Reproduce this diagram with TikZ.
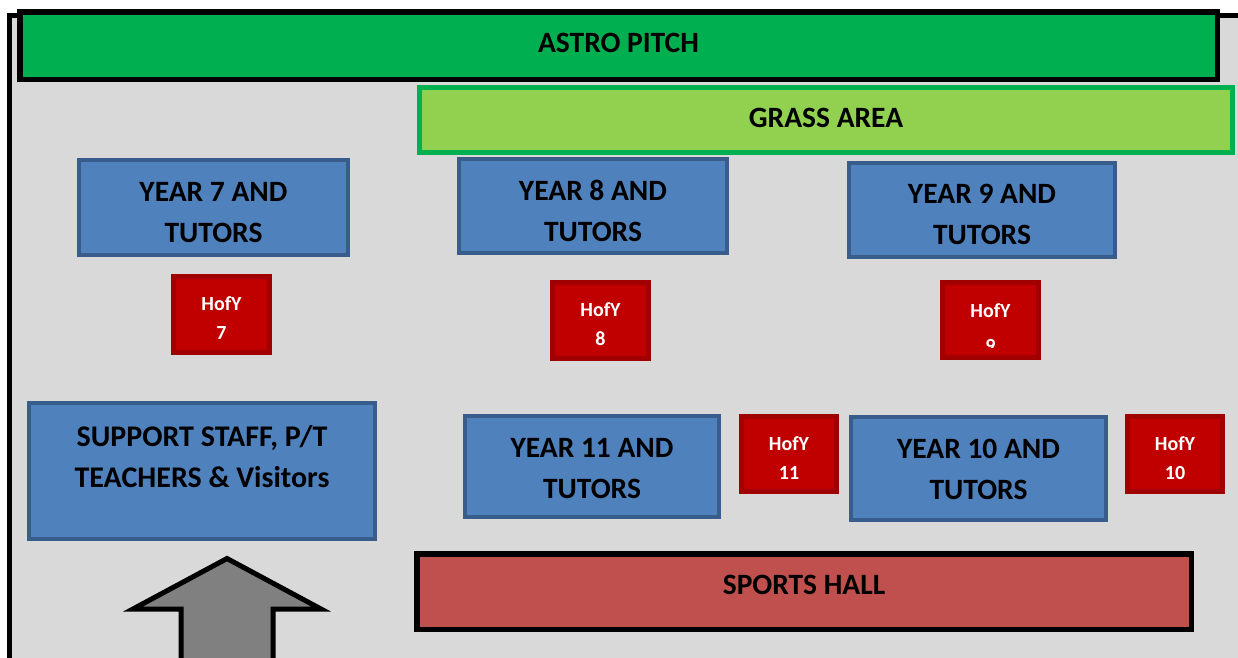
\documentclass[tikz,border=0pt]{standalone}
\usepackage{fontspec}
\setmainfont{Carlito}
\definecolor{bggray}{HTML}{D9D9D9}
\definecolor{astrogreen}{HTML}{00B050}
\definecolor{grassgreen}{HTML}{92D050}
\definecolor{boxblue}{HTML}{4F81BD}
\definecolor{boxblueedge}{HTML}{385D8A}
\definecolor{hofyred}{HTML}{C00000}
\definecolor{hofyedge}{HTML}{A00000}
\definecolor{hallred}{HTML}{C0504D}
\definecolor{arrowgray}{HTML}{808080}
\tikzset{
  base/.style={rectangle, outer sep=0pt, inner sep=0pt, align=center, font=\bfseries},
  bigtext/.style={font=\bfseries\fontsize{29.5}{41}\selectfont},
  yearbox/.style={base, fill=boxblue, draw=boxblueedge, line width=4pt, bigtext},
  hofybox/.style={base, fill=hofyred, draw=hofyedge, line width=5pt, text=white, font=\bfseries\fontsize{20}{29}\selectfont},
  areabox/.style={base, line width=5.5pt},
  plaintext/.style={base, bigtext},
}
\begin{document}
\begin{tikzpicture}[x=1pt,y=-1pt]
\useasboundingbox (0,0) rectangle (1238,657);
\clip (0,0) rectangle (1238,657);
% outer frame
\draw[fill=bggray, line width=5pt] (9.5,15) rectangle (1250,670);
% astro pitch
\node[areabox, fill=astrogreen, draw=black, minimum width=1197.5pt, minimum height=67.5pt] (astro) at (618.5,45.5) {};
\node[plaintext] (astrot) at ([yshift=2.5pt]astro.center) {ASTRO PITCH};
% grass area
\node[areabox, fill=grassgreen, draw=astrogreen, line width=5pt, minimum width=813pt, minimum height=65pt] (grass) at (826,120) {};
\node[plaintext] (grasst) at ([yshift=2pt]grass.center) {GRASS AREA};
% year boxes
\node[yearbox, minimum width=269pt, minimum height=95pt] (y7) at (213.5,207.5) {};
\node[plaintext] (y7t) at ([yshift=-5pt]y7.center) {YEAR 7 AND\\TUTORS};
\node[yearbox, minimum width=268pt, minimum height=94pt] (y8) at (593,206) {};
\node[plaintext] (y8t) at ([yshift=-4.5pt]y8.center) {YEAR 8 AND\\TUTORS};
\node[yearbox, minimum width=266pt, minimum height=94pt] (y9) at (982,210) {};
\node[plaintext] (y9t) at ([yshift=-4.5pt]y9.center) {YEAR 9 AND\\TUTORS};
\node[yearbox, minimum width=346pt, minimum height=136pt] (sup) at (202,471) {};
\node[plaintext, font=\bfseries\fontsize{30}{41}\selectfont] (supt) at ([yshift=14.5pt]sup.center) {SUPPORT STAFF, P/T\\TEACHERS \& Visitors};
\node[yearbox, minimum width=254pt, minimum height=101pt] (y11) at (592,466.5) {};
\node[plaintext] (y11t) at ([yshift=-2pt]y11.center) {YEAR 11 AND\\TUTORS};
\node[yearbox, minimum width=255pt, minimum height=103pt] (y10) at (978.5,468.5) {};
\node[plaintext] (y10t) at ([yshift=-1pt]y10.center) {YEAR 10 AND\\TUTORS};
% head of year boxes
\node[hofybox, minimum width=96pt, minimum height=76pt] (h7) at (221.5,314.5) {};
\node[hofybox, draw=none, fill=none] (h7t) at ([yshift=-4pt]h7.center) {HofY\\7};
\node[hofybox, minimum width=96pt, minimum height=76pt] (h8) at (600.5,320.5) {};
\node[hofybox, draw=none, fill=none] (h8t) at ([yshift=-4pt]h8.center) {HofY\\8};
\node[hofybox, minimum width=96pt, minimum height=75pt] (h9) at (990.5,320) {};
\begin{scope}
\clip (940,280) rectangle (1041,347);
\node[hofybox, draw=none, fill=none, font=\bfseries\fontsize{20}{35}\selectfont] (h9t) at ([yshift=-8pt]h9.center) {HofY\\9};
\end{scope}
\node[hofybox, minimum width=95pt, minimum height=75pt] (h11) at (789,454) {};
\node[hofybox, draw=none, fill=none] (h11t) at ([yshift=-4pt]h11.center) {HofY\\11};
\node[hofybox, minimum width=95pt, minimum height=75pt] (h10) at (1175,454) {};
\node[hofybox, draw=none, fill=none] (h10t) at ([yshift=-4pt]h10.center) {HofY\\10};
% sports hall
\node[areabox, fill=hallred, draw=black, minimum width=774.5pt, minimum height=75.5pt] (hall) at (804,591.5) {};
\node[plaintext] (hallt) at ([yshift=6.5pt]hall.center) {SPORTS HALL};
% entrance arrow
\draw[fill=arrowgray, line width=5pt, line join=miter] (181,680) -- (181,609) -- (133,609) -- (227,558.5) -- (321,609) -- (273,609) -- (273,680) -- cycle;
\end{tikzpicture}
\end{document}
